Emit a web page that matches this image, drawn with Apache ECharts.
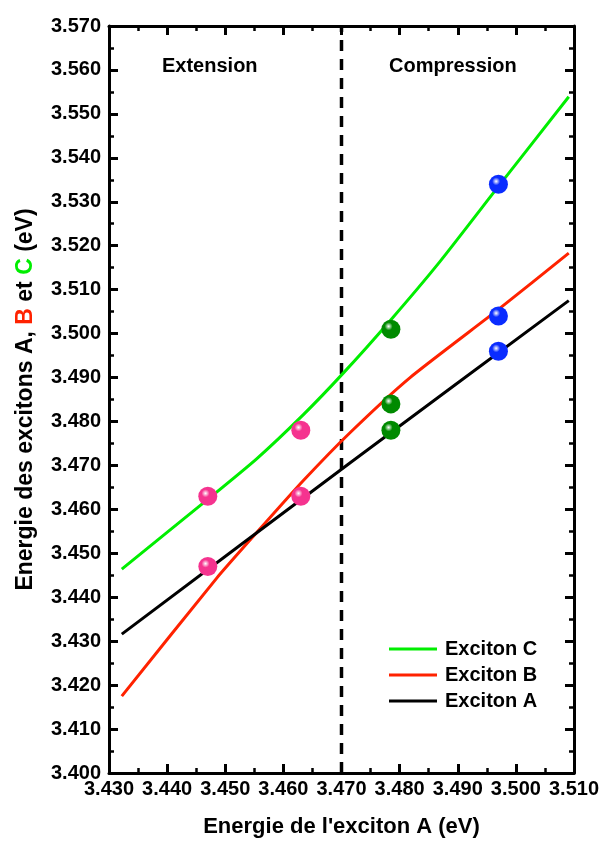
<!DOCTYPE html>
<html>
<head>
  <meta charset="utf-8">
  <title>Excitons A, B, C</title>
  <script src="https://cdn.jsdelivr.net/npm/echarts@6/dist/echarts.min.js"></script>
</head>
<body style="margin:0">
  <div id="main" style="width:610px;height:846px"></div>
  <script type="text/javascript">
    // fitted curves [E_A, E]
    var curveC = [[3.4322, 3.4464], [3.4472, 3.4625], [3.4554, 3.4715], [3.4634, 3.4815], [3.4703, 3.4910],
                  [3.4784, 3.5030], [3.4870, 3.5165], [3.4970, 3.5335], [3.5091, 3.5539]];
    var curveB = [[3.4322, 3.4175], [3.4485, 3.4443], [3.4554, 3.4547], [3.4634, 3.4665], [3.4715, 3.4775],
                  [3.4818, 3.4900], [3.4970, 3.5055], [3.5091, 3.5183]];
    var curveA = [[3.4322, 3.4316], [3.4715, 3.4706], [3.5091, 3.5075]];

    // measured points
    var pinkPts = [[3.447, 3.447], [3.447, 3.463], [3.463, 3.463], [3.463, 3.478]];
    var greenPts = [[3.4785, 3.478], [3.4785, 3.484], [3.4785, 3.501]];
    var bluePts = [[3.497, 3.496], [3.497, 3.504], [3.497, 3.534]];

    var divider = [[3.470, 3.400], [3.470, 3.570]];

    var font = 'Liberation Sans, Arial, sans-serif';
    var myChart = echarts.init(document.getElementById('main'));

    function ball(color) {
      return {
        type: 'radial', x: 0.38, y: 0.35, r: 0.7,
        colorStops: [
          { offset: 0, color: '#ffffff' },
          { offset: 0.3, color: color },
          { offset: 1, color: color }
        ]
      };
    }

    function axisBase(show) {
      return {
        min: 3.40, max: 3.57, interval: 0.01,
        axisLine: { show: true, onZero: false, lineStyle: { color: '#000', width: 3 } },
        axisTick: { show: true, inside: true, length: 9, lineStyle: { color: '#000', width: 3 } },
        minorTick: { show: true, splitNumber: 2, length: 5, lineStyle: { color: '#000', width: 2.5 } },
        splitLine: { show: false },
        axisLabel: {
          show: show, color: '#000', fontFamily: font, fontWeight: 'bold', fontSize: 20,
          formatter: function (v) { return v.toFixed(3); }
        }
      };
    }

    var xBottom = axisBase(true);
    xBottom.min = 3.43; xBottom.max = 3.51;
    xBottom.position = 'bottom';
    xBottom.axisLabel.margin = 6;
    xBottom.name = "Energie de l'exciton A (eV)";
    xBottom.nameLocation = 'middle';
    xBottom.nameGap = 43;
    xBottom.nameTextStyle = { color: '#000', fontFamily: font, fontWeight: 'bold', fontSize: 22 };
    var xTop = axisBase(false);
    xTop.min = 3.43; xTop.max = 3.51;
    xTop.position = 'top';

    var yLeft = axisBase(true);
    yLeft.position = 'left';
    yLeft.axisLabel.margin = 8;
    yLeft.name = 'Energie des excitons A, {r|B} et {g|C} (eV)';
    yLeft.nameLocation = 'middle';
    yLeft.nameGap = 72;
    yLeft.nameTextStyle = {
      color: '#000', fontFamily: font, fontWeight: 'bold', fontSize: 23,
      rich: {
        r: { color: '#ff2200', fontFamily: font, fontWeight: 'bold', fontSize: 23 },
        g: { color: '#00ee00', fontFamily: font, fontWeight: 'bold', fontSize: 23 }
      }
    };
    var yRight = axisBase(false);
    yRight.position = 'right';

    function curve(name, data, color) {
      return {
        name: name, type: 'line', data: data, smooth: 0.2, symbol: 'none',
        xAxisIndex: 0, yAxisIndex: 0,
        lineStyle: { color: color, width: 3 }, itemStyle: { color: color }, z: 3
      };
    }

    function balls(data, color) {
      return {
        type: 'scatter', data: data, symbolSize: 19,
        xAxisIndex: 0, yAxisIndex: 0,
        itemStyle: { color: ball(color), opacity: 1 }, z: 5
      };
    }

    var option = {
      animation: false,
      backgroundColor: '#fff',
      grid: { left: 109, right: 36, top: 26, bottom: 73 },
      xAxis: [xBottom, xTop],
      yAxis: [yLeft, yRight],
      legend: {
        data: ['Exciton C', 'Exciton B', 'Exciton A'],
        orient: 'vertical', left: 384, top: 634,
        icon: 'rect', itemWidth: 48, itemHeight: 3, itemGap: 6,
        textStyle: { color: '#000', fontFamily: font, fontWeight: 'bold', fontSize: 20, padding: [0, 0, 0, 3] }
      },
      graphic: [
        { type: 'text', left: 162, top: 56, style: { text: 'Extension', fill: '#000', font: 'bold 20px ' + font } },
        { type: 'text', left: 389, top: 56, style: { text: 'Compression', fill: '#000', font: 'bold 20px ' + font } }
      ],
      series: [
        {
          type: 'line', data: divider, symbol: 'none', xAxisIndex: 0, yAxisIndex: 0,
          lineStyle: { color: '#000', width: 3.5, type: [11, 8] }, z: 2
        },
        curve('Exciton C', curveC, '#00ee00'),
        curve('Exciton B', curveB, '#ff2200'),
        curve('Exciton A', curveA, '#000000'),
        balls(pinkPts, '#f5338f'),
        balls(greenPts, '#008a00'),
        balls(bluePts, '#0a2cff')
      ]
    };

    myChart.setOption(option);
  </script>
</body>
</html>
